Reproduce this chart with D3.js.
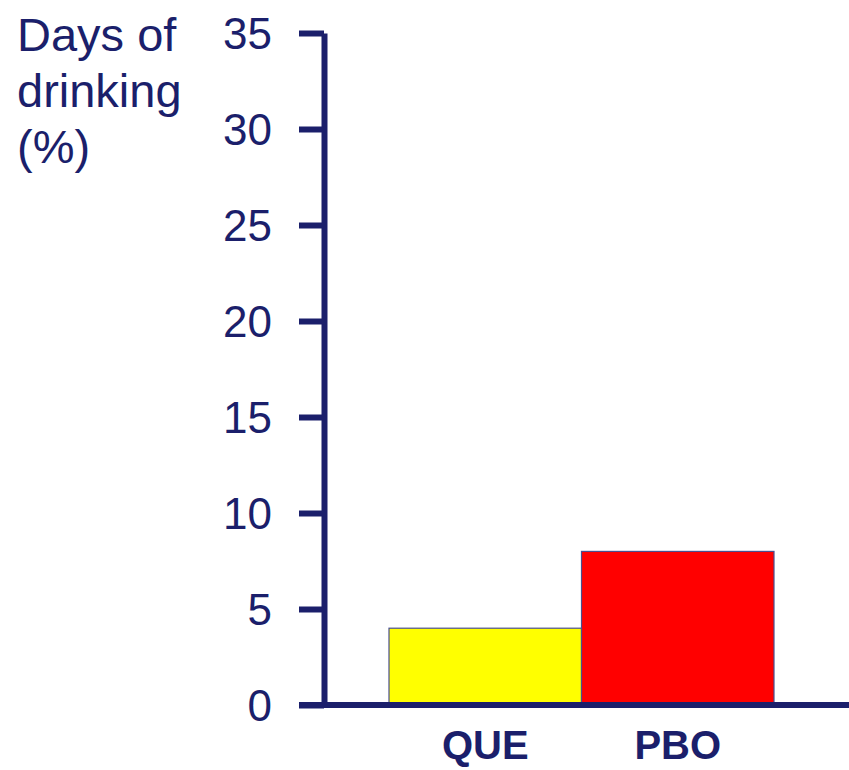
<!DOCTYPE html>
<html>
<head>
<meta charset="utf-8">
<script src="https://cdn.jsdelivr.net/npm/d3@7"></script>
<style>
  html, body { margin: 0; padding: 0; background: #fff; }
  svg { display: block; }
</style>
</head>
<body>
<svg id="chart" width="849" height="770"></svg>
<script>
const categories = ["QUE", "PBO"];
const values = [4, 8];
const barColors = ["#ffff00", "#ff0000"];
const yTicks = [0, 5, 10, 15, 20, 25, 30, 35];
const yTitle = ["Days of", "drinking", "(%)"];

const navy = "#1b1f6b";
const svg = d3.select("#chart");

const y = d3.scaleLinear().domain([0, 35]).range([705, 33]);
const x = d3.scaleBand().domain(categories).range([389, 774]).padding(0);
const axisX = 324;

// bars
svg.selectAll("rect.bar")
  .data(categories)
  .enter().append("rect")
  .attr("class", "bar")
  .attr("x", d => x(d))
  .attr("width", x.bandwidth())
  .attr("y", (d, i) => y(values[i]))
  .attr("height", (d, i) => y(0) - y(values[i]))
  .attr("fill", (d, i) => barColors[i])
  .attr("stroke", "#4a4f8f")
  .attr("stroke-width", 1.2);

// y axis
const yAxis = d3.axisLeft(y).tickValues(yTicks).tickSize(25).tickSizeOuter(0).tickPadding(27);
const gy = svg.append("g").attr("transform", `translate(${axisX},0)`).call(yAxis);
gy.select(".domain").attr("stroke", navy).attr("stroke-width", 6);
gy.selectAll(".tick line").attr("stroke", navy).attr("stroke-width", 6);
gy.selectAll(".tick text")
  .attr("fill", navy)
  .attr("font-family", "Liberation Sans, Arial, sans-serif")
  .attr("font-size", 44)
  .attr("dy", "0.36em");

// x axis baseline
svg.append("line")
  .attr("x1", 299).attr("x2", 849)
  .attr("y1", y(0)).attr("y2", y(0))
  .attr("stroke", navy).attr("stroke-width", 6);

// x labels
svg.selectAll("text.xlab")
  .data(categories)
  .enter().append("text")
  .attr("class", "xlab")
  .attr("x", d => x(d) + x.bandwidth() / 2)
  .attr("y", 759)
  .attr("text-anchor", "middle")
  .attr("fill", navy)
  .attr("font-family", "Liberation Sans, Arial, sans-serif")
  .attr("font-weight", "bold")
  .attr("font-size", 40)
  .text(d => d);

// y title
svg.selectAll("text.ytitle")
  .data(yTitle)
  .enter().append("text")
  .attr("class", "ytitle")
  .attr("x", 17)
  .attr("y", (d, i) => 51 + i * 56)
  .attr("fill", navy)
  .attr("font-family", "Liberation Sans, Arial, sans-serif")
  .attr("font-size", 47)
  .text(d => d);
</script>
</body>
</html>
